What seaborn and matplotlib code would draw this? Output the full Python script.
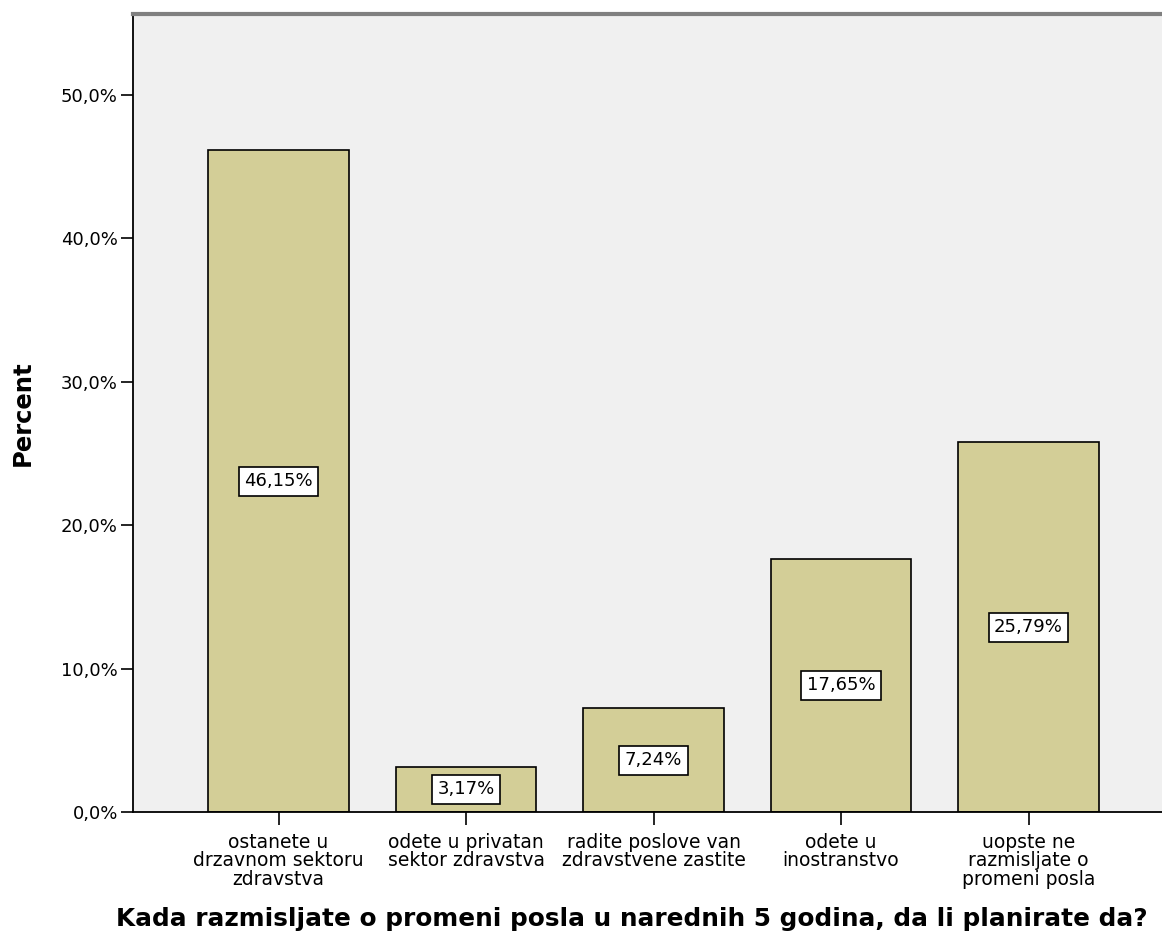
import matplotlib
matplotlib.use("Agg")
import matplotlib.pyplot as plt
import pandas as pd
import seaborn as sns

# answers and percentages
categories = [
    "ostanete u\ndrzavnom sektoru\nzdravstva",
    "odete u privatan\nsektor zdravstva",
    "radite poslove van\nzdravstvene zastite",
    "odete u\ninostranstvo",
    "uopste ne\nrazmisljate o\npromeni posla",
]
percents = [46.15, 3.17, 7.24, 17.65, 25.79]
bar_labels = ["46,15%", "3,17%", "7,24%", "17,65%", "25,79%"]
y_ticks = [0, 10, 20, 30, 40, 50]
y_tick_labels = ["0,0%", "10,0%", "20,0%", "30,0%", "40,0%", "50,0%"]

sns.set_theme(style="white")
plt.rcParams["font.family"] = ["DejaVu Sans"]
plt.rcParams["text.color"] = "black"
plt.rcParams["axes.labelcolor"] = "black"
plt.rcParams["xtick.color"] = "black"
plt.rcParams["ytick.color"] = "black"

df = pd.DataFrame({"answer": categories, "percent": percents})

fig = plt.figure(figsize=(11.62, 9.43), dpi=100)
ax = fig.add_axes([0.1145, 0.1389, 0.8855, 0.8463])
ax.set_facecolor("#F0F0F0")

sns.barplot(data=df, x="answer", y="percent", color="#D3CE97", width=0.75,
            saturation=1, edgecolor="black", linewidth=1.2, ax=ax)

# value boxes in the middle of each bar
for i, (p, lab) in enumerate(zip(percents, bar_labels)):
    ax.text(i, p / 2, lab, ha="center", va="center", fontsize=13,
            bbox=dict(boxstyle="square,pad=0.3", fc="white", ec="black", lw=1.2))

ax.set_xlim(-0.776, 4.712)
ax.set_ylim(0, 55.65)
ax.set_yticks(y_ticks)
ax.set_yticklabels(y_tick_labels, fontsize=13)
ax.tick_params(axis="x", labelsize=13.5, length=9, width=1.2,
               direction="out", bottom=True, pad=6)
ax.tick_params(axis="y", length=9, width=1.2, direction="out",
               left=True, pad=2)
for lab in ax.get_xticklabels():
    lab.set_linespacing(0.97)

for side in ["left", "bottom"]:
    ax.spines[side].set_color("black")
    ax.spines[side].set_linewidth(1.3)
ax.spines["top"].set_color("#808080")
ax.spines["top"].set_linewidth(3)
ax.spines["right"].set_visible(False)

ax.set_ylabel("Percent", fontsize=17.5, fontweight="bold", labelpad=19)
ax.set_xlabel("Kada razmisljate o promeni posla u narednih 5 godina, da li planirate da?",
              fontsize=17.8, fontweight="bold")
ax.xaxis.set_label_coords(0.4845, -0.119, transform=ax.transAxes)
ax.xaxis.label.set_va("top")

fig.savefig("out.png", dpi=100)
